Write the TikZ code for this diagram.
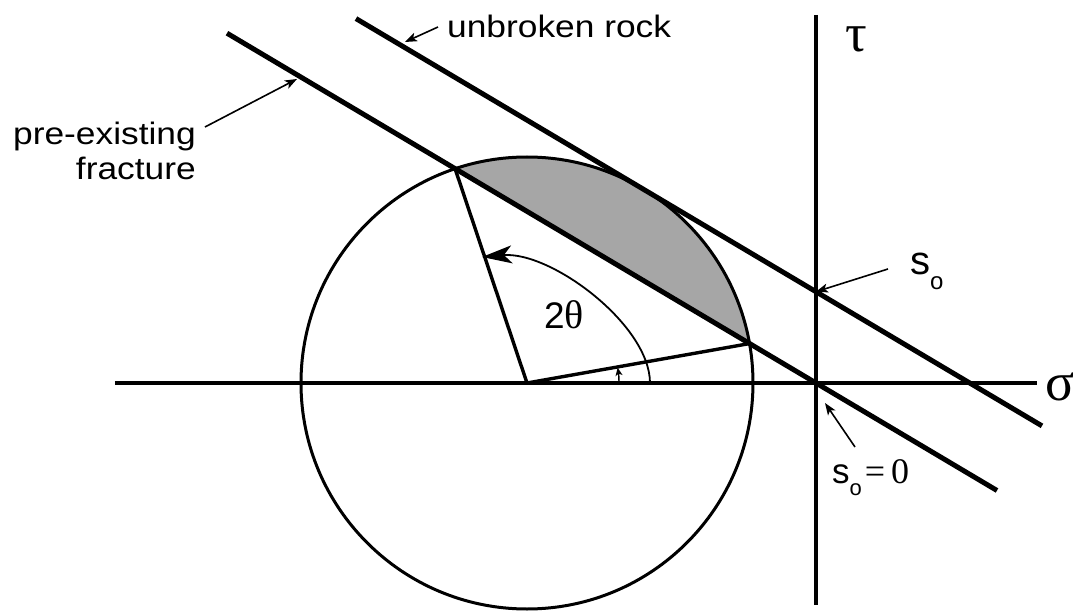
\documentclass[tikz,border=0pt]{standalone}
\usepackage{fontspec}
\setmainfont[FakeStretch=1.14]{Liberation Sans}
\newfontfamily\grk{Liberation Serif}
\newfontfamily\plainsans{Liberation Sans}
\usetikzlibrary{arrows.meta,calc}
\begin{document}
\begin{tikzpicture}[x=1pt,y=1pt,
  axis/.style={line width=3.4pt},
  fault/.style={line width=5pt},
  circline/.style={line width=3pt},
  radius line/.style={line width=3.4pt},
  pointer/.style={line width=1.6pt,-{Stealth[length=12pt,width=9pt,inset=3pt]}},
  lbl/.style={inner sep=0pt,font=\fontsize{31}{35}\selectfont},
  greek/.style={inner sep=0pt,font=\grk\fontsize{54}{54}\selectfont}]
\useasboundingbox (-816,-230) rectangle (257,383);
% key points
\coordinate (O) at (0,0);
\coordinate (C) at (-289,0);
\coordinate (A) at ($(C)+(108.55:226)$);
\coordinate (B) at ($(C)+(10.05:226)$);
\coordinate (L1) at (-589,349.8);
\coordinate (L2) at (181,-107.5);
\coordinate (U1) at (-460,364.4);
\coordinate (U2) at (226,-42.9);
\coordinate (S) at (0,91.3);
\coordinate (H1) at (-701,0);
\coordinate (H2) at (221,0);
\coordinate (V1) at (0,368);
\coordinate (V2) at (0,-222);
% shaded segment
\fill[gray!70!white] (A) -- (B) arc[start angle=10.05,end angle=108.55,radius=226] -- cycle;
% circle and radii
\draw[circline] (C) circle[radius=226];
\draw[radius line] (A) -- (C) -- (B);
% axes
\draw[axis] (H1) -- (H2);
\draw[axis] (V1) -- (V2);
% envelopes
\draw[fault] (L1) -- (L2);
\draw[fault] (U1) -- (U2);
% angle arcs
\coordinate (T0) at (-166,0);
\coordinate (T1) at (-334,126);
\draw[line width=1.8pt,-{Stealth[length=30pt,width=18pt,inset=8pt]}] (T0) .. controls (-166,58) and (-265,132) .. (T1);
\draw[line width=1.4pt,-{Stealth[length=8pt,width=7pt,inset=2pt]}] ($(C)+(0:92)$) arc[start angle=0,end angle=9.6,radius=92];
% labels
\node[greek] (tau) at (40,344) {τ};
\node[greek] (sigma) at (244,-4) {σ};
\node[inner sep=0pt,font=\plainsans\fontsize{37}{37}\selectfont] (twotheta) at (-252,68) {2{\grk\fontsize{40}{40}\selectfont θ}};
\node[lbl,anchor=west] (unb) at (-369,357) {unbroken rock};
\coordinate (unbtip) at (-411,341);
\draw[pointer] (unb.west) ++(-9,-1) coordinate (unbtail) -- (unbtip);
\node[lbl,anchor=east,align=right] (pre) at (-620,232) {pre-existing\\fracture};
\coordinate (pretip) at (-519,304);
\coordinate (pretail) at (-611,256);
\draw[pointer] (pretail) -- (pretip);
\node[inner sep=0pt,anchor=base west] (so) at (94,108) {\plainsans\fontsize{40}{40}\selectfont s\raisebox{-15pt}{\fontsize{24}{24}\selectfont o}};
\coordinate (sotail) at (72,114);
\draw[pointer] (sotail) -- (S);
\node[inner sep=0pt,anchor=base west] (sozero) at (16,-100) {\plainsans\fontsize{35}{35}\selectfont s\raisebox{-12pt}{\fontsize{22}{22}\selectfont o}\kern3pt{\grk\fontsize{36}{36}\selectfont =\kern6pt0}};
\coordinate (sztail) at (39,-64);
\coordinate (sztip) at (9,-20);
\draw[pointer] (sztail) -- (sztip);
\end{tikzpicture}
\end{document}
